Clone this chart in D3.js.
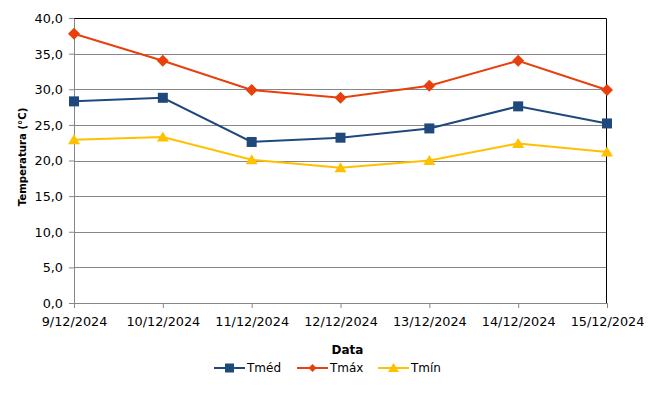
<!DOCTYPE html>
<html>
<head>
<meta charset="utf-8">
<script src="https://cdn.jsdelivr.net/npm/d3@7"></script>
<style>
  body { margin: 0; background: #fff; }
  svg text { font-family: "DejaVu Sans", Verdana, sans-serif; }
</style>
</head>
<body>
<div id="chart"></div>
<script>
// chart data
const dates = ["9/12/2024", "10/12/2024", "11/12/2024", "12/12/2024", "13/12/2024", "14/12/2024", "15/12/2024"];
const tMed = [28.3, 28.8, 22.6, 23.2, 24.5, 27.6, 25.2];
const tMax = [37.8, 34.0, 29.9, 28.8, 30.5, 34.0, 29.9];
const tMin = [22.9, 23.3, 20.1, 19.0, 20.0, 22.4, 21.2];
const yTicks = [0, 5, 10, 15, 20, 25, 30, 35, 40];

const series = [
    { name: "Tméd", values: tMed, color: "#1F497D", marker: "square" },
    { name: "Tmáx", values: tMax, color: "#E8400C", marker: "diamond" },
    { name: "Tmín", values: tMin, color: "#FFC000", marker: "triangle" }
];

const W = 666, H = 401;
const margin = { top: 18, right: 59, bottom: 98, left: 74 };
const width = W - margin.left - margin.right;
const height = H - margin.top - margin.bottom;

const svg = d3.select("#chart").append("svg")
    .attr("width", W)
    .attr("height", H);

const g = svg.append("g")
    .attr("transform", `translate(${margin.left},${margin.top})`);

const x = d3.scalePoint()
    .domain(dates)
    .range([0, width]);

const y = d3.scaleLinear()
    .domain([0, 40])
    .range([height, 0]);

const fmt = v => d3.format(".1f")(v).replace(".", ",");

// gridlines
g.selectAll(".grid")
    .data(yTicks.filter(t => t > 0 && t < 40))
    .enter()
    .append("line")
    .attr("x1", 0)
    .attr("x2", width)
    .attr("y1", d => Math.round(y(d)) + 0.5)
    .attr("y2", d => Math.round(y(d)) + 0.5)
    .style("stroke", "#868686")
    .style("stroke-width", 1);

// plot border top and right
g.append("path")
    .attr("d", `M0,0.5H${width - 0.5}V${height}`)
    .style("fill", "none")
    .style("stroke", "#000")
    .style("stroke-width", 1);

// y axis
const yAxis = g.append("g")
    .call(d3.axisLeft(y).tickValues(yTicks).tickFormat(fmt).tickSize(5).tickSizeOuter(0));
yAxis.attr("font-family", null).attr("font-size", null);
yAxis.select(".domain").style("stroke", "#868686");
yAxis.selectAll(".tick line").style("stroke", "#868686");
yAxis.selectAll("text")
    .style("font-family", "'DejaVu Sans', Verdana, sans-serif")
    .style("font-size", "12.8px")
    .style("fill", "#000")
    .attr("x", -11)
    .attr("dy", "0.35em");

// x axis
const xAxis = g.append("g")
    .attr("transform", `translate(0,${height})`)
    .call(d3.axisBottom(x).tickSize(5).tickSizeOuter(0));
xAxis.attr("font-family", null).attr("font-size", null);
xAxis.select(".domain").style("stroke", "#868686");
xAxis.selectAll(".tick line").style("stroke", "#868686");
xAxis.selectAll("text")
    .style("font-family", "'DejaVu Sans', Verdana, sans-serif")
    .style("font-size", "12.8px")
    .style("fill", "#000")
    .attr("y", 14)
    .attr("dy", "0.71em");

// axis titles
svg.append("text")
    .attr("transform", `translate(26,${margin.top + 139}) rotate(-90)`)
    .attr("text-anchor", "middle")
    .style("font-size", "10.2px")
    .style("font-weight", "bold")
    .text("Temperatura (°C)");

svg.append("text")
    .attr("x", margin.left + width / 2 + 7)
    .attr("y", 354)
    .attr("text-anchor", "middle")
    .style("font-size", "12px")
    .style("font-weight", "bold")
    .text("Data");

// lines
const line = d3.line()
    .x((d, i) => x(dates[i]))
    .y(d => y(d));

function marker(sel, type, color, s) {
    if (type === "square") {
        sel.append("rect")
            .attr("x", -s).attr("y", -s)
            .attr("width", 2 * s).attr("height", 2 * s)
            .style("fill", color);
    } else if (type === "diamond") {
        const r = s + 1;
        sel.append("path")
            .attr("d", `M0,${-r}L${r},0L0,${r}L${-r},0Z`)
            .style("fill", color);
    } else {
        sel.append("path")
            .attr("d", `M0,${-s - 0.5}L${s + 1},${s - 0.5}L${-s - 1},${s - 0.5}Z`)
            .style("fill", color);
    }
}

series.forEach(s => {
    g.append("path")
        .datum(s.values)
        .attr("d", line)
        .style("fill", "none")
        .style("stroke", s.color)
        .style("stroke-width", 2);

    g.selectAll(null)
        .data(s.values)
        .enter()
        .append("g")
        .attr("transform", (d, i) => `translate(${x(dates[i])},${y(d)})`)
        .each(function() { marker(d3.select(this), s.marker, s.color, 5); });
});

// legend
const legendX = [214, 297, 378];
const legend = svg.selectAll(".legend")
    .data(series)
    .enter()
    .append("g")
    .attr("transform", (d, i) => `translate(${legendX[i]},368)`);

legend.append("line")
    .attr("x1", 0).attr("x2", 31)
    .style("stroke", d => d.color)
    .style("stroke-width", 2);

legend.each(function(d) {
    const m = d3.select(this).append("g").attr("transform", "translate(15.5,0)");
    marker(m, d.marker, d.color, d.marker === "diamond" ? 3 : 4.5);
});

legend.append("text")
    .attr("x", 33)
    .attr("dy", "0.35em")
    .style("font-size", "12px")
    .text(d => d.name);
</script>
</body>
</html>
